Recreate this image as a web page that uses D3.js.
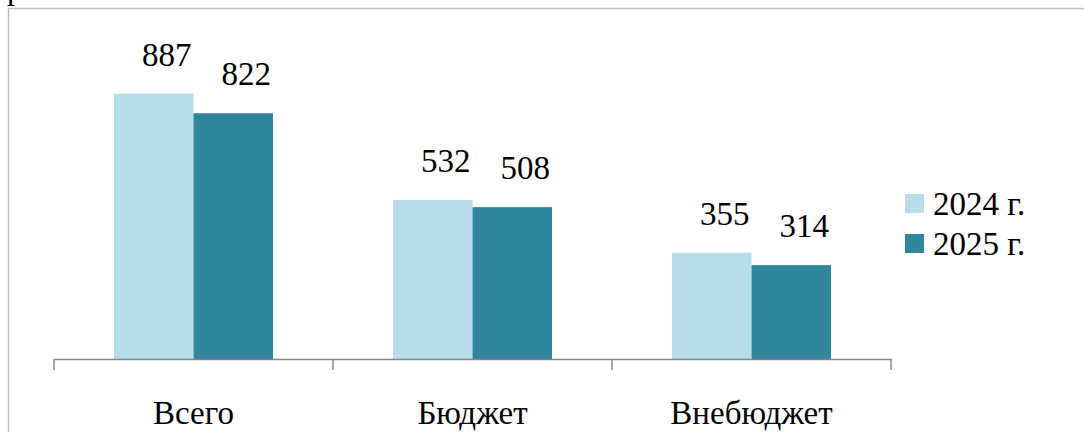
<!DOCTYPE html>
<html>
<head>
<meta charset="utf-8">
<script src="https://cdn.jsdelivr.net/npm/d3@7"></script>
<style>
  body { margin: 0; background: #fff; }
</style>
</head>
<body>
<div id="chart"></div>
<script>
// Grouped bars: 2024 vs 2025 by funding source
const categories = ["Всего", "Бюджет", "Внебюджет"];
const seriesNames = ["2024 г.", "2025 г."];
const values2024 = [887, 532, 355];
const values2025 = [822, 508, 314];

const W = 1084, H = 432;
const plot = { left: 54, right: 891, top: 60, bottom: 359 };
const serif = () => "'Liberation Serif'";

const svg = d3.select("#chart").append("svg")
  .attr("width", W).attr("height", H);

// outer frame (runs past the right/bottom edge of the picture)
svg.append("rect")
  .attr("x", 8.5).attr("y", 8.5)
  .attr("width", 1100).attr("height", 500)
  .attr("fill", "none").attr("stroke", "#c0c0c0").attr("stroke-width", 1.5);

// cut-off text above the frame
svg.append("text").attr("x", 7).attr("y", -1)
  .style("font-size", "32px").style("font-family", serif).text("р");

const x = d3.scaleBand().domain(categories).range([plot.left, plot.right]).padding(0);
const xs = d3.scaleBand().domain(seriesNames).range([60, x.bandwidth() - 60]).padding(0);
const y = d3.scaleLinear().domain([0, 1000]).range([plot.bottom, plot.top]);
const color = d3.scaleOrdinal().domain(seriesNames).range(["#b7dde8", "#31859c"]);

const rows = categories.map((c, i) => ({
  category: c,
  values: [
    { series: seriesNames[0], value: values2024[i] },
    { series: seriesNames[1], value: values2025[i] }
  ]
}));

const g = svg.selectAll(".cat").data(rows).enter().append("g")
  .attr("class", "cat")
  .attr("transform", d => `translate(${x(d.category)},0)`);

g.selectAll("rect").data(d => d.values).enter().append("rect")
  .attr("x", v => xs(v.series))
  .attr("width", xs.bandwidth())
  .attr("y", v => y(v.value))
  .attr("height", v => y(0) - y(v.value))
  .attr("fill", v => color(v.series));

// value labels, a bit right of the bar centre like the original
g.selectAll("text.val").data(d => d.values).enter().append("text")
  .attr("class", "val")
  .attr("x", v => xs(v.series) + xs.bandwidth() / 2 + 13)
  .attr("y", v => y(v.value) - 28)
  .attr("text-anchor", "middle")
  .style("font-size", "33px").style("font-family", serif)
  .text(v => v.value);

// x axis
const xAxis = d3.axisBottom(x).tickSize(0).tickSizeOuter(0).tickPadding(42);
const axG = svg.append("g").attr("transform", `translate(0,${plot.bottom})`).call(xAxis);
axG.attr("font-family", null).attr("font-size", null);
axG.select(".domain").attr("stroke", "#868686").attr("stroke-width", 1.5);
axG.selectAll("text").style("font-size", "33px").style("font-family", serif).attr("fill", "#000");
// tick marks at band boundaries
const bounds = categories.map(c => x(c)).concat([plot.right]);
axG.selectAll("line.sep").data(bounds).enter().append("line")
  .attr("class", "sep")
  .attr("x1", d => d).attr("x2", d => d)
  .attr("y1", 0).attr("y2", 11)
  .attr("stroke", "#868686").attr("stroke-width", 1.5);

// legend
const leg = svg.append("g").attr("transform", "translate(905,194)");
const li = leg.selectAll("g").data(seriesNames).enter().append("g")
  .attr("transform", (d, i) => `translate(0,${i * 40})`);
li.append("rect").attr("width", 19).attr("height", 19).attr("fill", d => color(d));
li.append("text").attr("x", 28).attr("y", 21)
  .style("font-size", "33px").style("font-family", serif).text(d => d);
</script>
</body>
</html>
